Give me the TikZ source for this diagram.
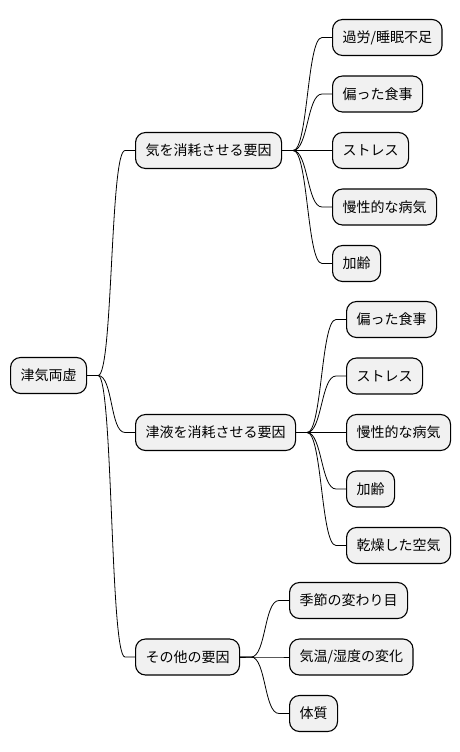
\documentclass[tikz,border=0pt]{standalone}
\usepackage{fontspec}
\setmainfont{Noto Sans CJK JP}
\definecolor{boxfill}{HTML}{F1F1F1}
\newcommand\mmlink[2]{\draw[link] (#1.east) -- ++(11pt,0) .. controls +(15pt,0) and +(-15pt,0) .. ([xshift=-10pt]#2.west) -- (#2.west);}
\begin{document}
\begin{tikzpicture}[x=1pt,y=-1pt,
  box/.style={draw=black, line width=1.1pt, fill=boxfill, rounded corners=10pt,
    inner xsep=10pt, inner ysep=0pt, minimum height=36pt, anchor=west,
    font=\fontsize{14pt}{16pt}\selectfont},
  link/.style={draw=black, line width=0.8pt}]
\useasboundingbox (0,0) rectangle (460,752);

\node[box] (root) at (10,375.5) {津気両虚};

\node[box] (a) at (135,150.5) {気を消耗させる要因};
\node[box] (b) at (135,432.5) {津液を消耗させる要因};
\node[box] (c) at (135,657) {その他の要因};

\node[box] (a1) at (332,37.5) {過労/睡眠不足};
\node[box] (a2) at (332,94) {偏った食事};
\node[box] (a3) at (332,150.5) {ストレス};
\node[box] (a4) at (332,207) {慢性的な病気};
\node[box] (a5) at (332,263.5) {加齢};

\node[box] (b1) at (346,319.5) {偏った食事};
\node[box] (b2) at (346,376) {ストレス};
\node[box] (b3) at (346,432.5) {慢性的な病気};
\node[box] (b4) at (346,489) {加齢};
\node[box] (b5) at (346,545.5) {乾燥した空気};

\node[box] (c1) at (289,600.5) {季節の変わり目};
\node[box] (c2) at (289,657) {気温/湿度の変化};
\node[box] (c3) at (289,713.5) {体質};

\mmlink{root}{a}
\mmlink{root}{b}
\mmlink{root}{c}
\mmlink{a}{a1}
\mmlink{a}{a2}
\mmlink{a}{a3}
\mmlink{a}{a4}
\mmlink{a}{a5}
\mmlink{b}{b1}
\mmlink{b}{b2}
\mmlink{b}{b3}
\mmlink{b}{b4}
\mmlink{b}{b5}
\mmlink{c}{c1}
\mmlink{c}{c2}
\mmlink{c}{c3}
\end{tikzpicture}
\end{document}
